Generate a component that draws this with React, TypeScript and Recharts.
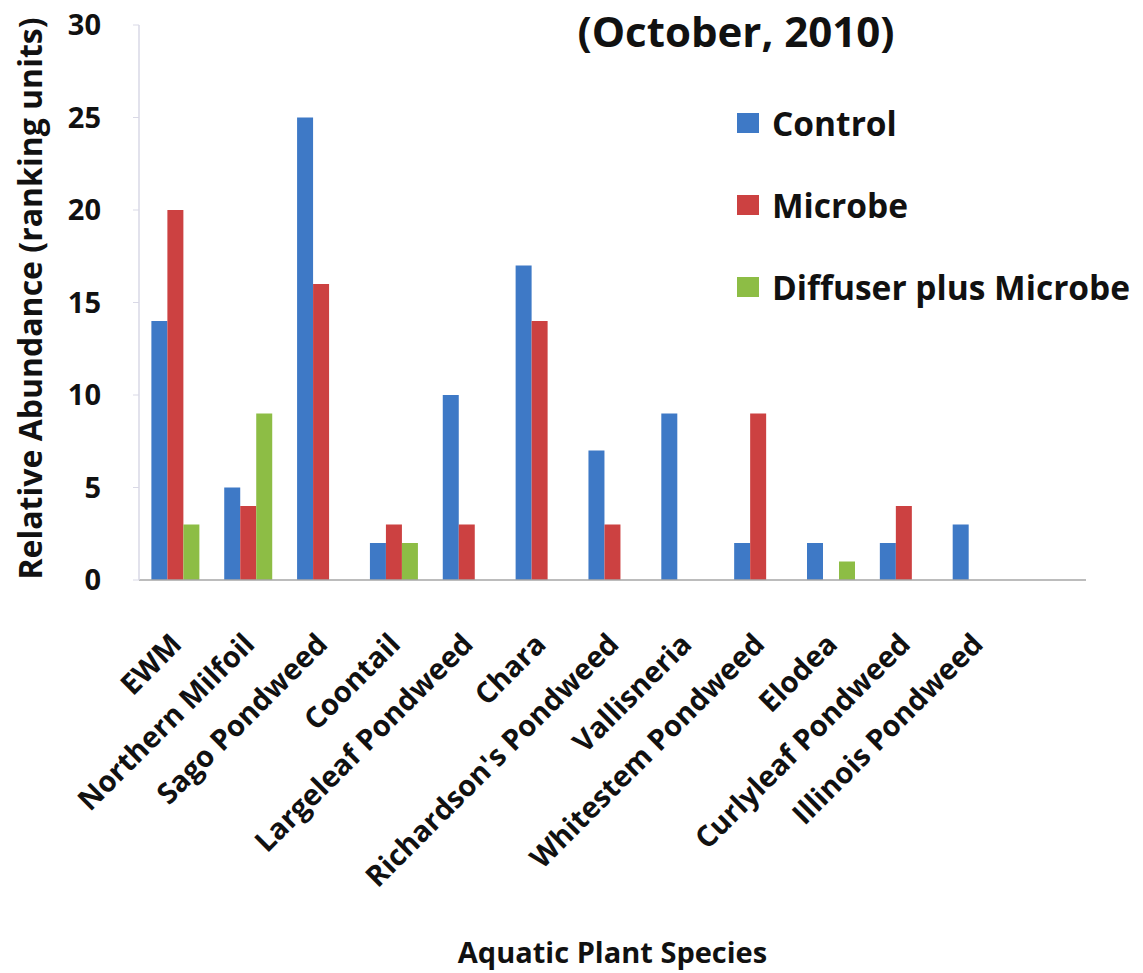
import React from 'react';
import { BarChart, Bar, XAxis, YAxis, Legend, Label } from 'recharts';

const categories = [
  'EWM',
  'Northern Milfoil',
  'Sago Pondweed',
  'Coontail',
  'Largeleaf Pondweed',
  'Chara',
  "Richardson's Pondweed",
  'Vallisneria',
  'Whitestem Pondweed',
  'Elodea',
  'Curlyleaf Pondweed',
  'Illinois Pondweed',
  '',
];

const controlValues = [14, 5, 25, 2, 10, 17, 7, 9, 2, 2, 2, 3, 0];
const microbeValues = [20, 4, 16, 3, 3, 14, 3, 0, 9, 0, 4, 0, 0];
const diffuserValues = [3, 9, 0, 2, 0, 0, 0, 0, 0, 1, 0, 0, 0];

const yTicks = [0, 5, 10, 15, 20, 25, 30];

const seriesNames = ['Control', 'Microbe', 'Diffuser plus Microbe'];
const seriesColors = ['#3E79C6', '#CC4141', '#8DBD45'];

const data = categories.map((name, i) => ({
  name,
  control: controlValues[i],
  microbe: microbeValues[i],
  diffuser: diffuserValues[i],
}));

const FONT = '"Open Sans", Lato, sans-serif';

const XTick = (props: any) => {
  const { x, y, payload } = props;
  const ax = x + 8;
  const ay = y + 58;
  return (
    <text
      x={ax}
      y={ay}
      textAnchor="end"
      transform={`rotate(-45, ${ax}, ${ay})`}
      fontFamily={FONT}
      fontWeight={700}
      fontSize={29}
      fill="#111"
    >
      {payload.value}
    </text>
  );
};

const LegendContent = (props: any) => {
  const items = [...(props.payload || [])].sort(
    (a: any, b: any) => seriesNames.indexOf(a.value) - seriesNames.indexOf(b.value)
  );
  return (
    <div style={{ fontFamily: FONT, fontWeight: 700, fontSize: 33.5, color: '#111' }}>
      {items.map((p: any, i: number) => (
        <div key={i} style={{ display: 'flex', alignItems: 'center', height: 82 }}>
          <span
            style={{
              display: 'inline-block',
              width: 22,
              height: 20,
              background: p.color,
              marginRight: 13,
            }}
          />
          <span style={{ whiteSpace: 'nowrap' }}>{p.value}</span>
        </div>
      ))}
    </div>
  );
};

const YLabel = (props: any) => {
  const vb = props.viewBox || {};
  const cx = 29;
  const cy = vb.y + vb.height / 2 - 4;
  return (
    <text
      x={cx}
      y={cy}
      textAnchor="middle"
      dominantBaseline="central"
      transform={`rotate(-90, ${cx}, ${cy})`}
      fontFamily={FONT}
      fontWeight={700}
      fontSize={32}
      fill="#111"
    >
      Relative Abundance (ranking units)
    </text>
  );
};

export default function App() {
  return (
    <div style={{ position: 'absolute', left: 0, top: 0, width: 1143, height: 973, background: '#fff' }}>
      <BarChart
        width={1143}
        height={973}
        data={data}
        margin={{ top: 25, right: 57, bottom: 0, left: 0 }}
        barCategoryGap="17%"
        barGap={0}
      >
        <text
          x={736}
          y={47}
          textAnchor="middle"
          fontFamily={FONT}
          fontWeight={700}
          fontSize={42}
          fill="#111"
        >
          (October, 2010)
        </text>
        <XAxis
          dataKey="name"
          interval={0}
          tickLine={false}
          axisLine={{ stroke: '#a6a6a6', strokeWidth: 1.5 }}
          tick={<XTick />}
          height={393}
        >
          <Label
            value="Aquatic Plant Species"
            position="insideBottom"
            offset={10}
            style={{ fontFamily: FONT, fontWeight: 700, fontSize: 29, fill: '#111' }}
          />
        </XAxis>
        <YAxis
          width={139}
          domain={[0, 30]}
          ticks={yTicks}
          interval={0}
          axisLine={{ stroke: '#d9d9e6', strokeWidth: 1.5 }}
          tickLine={{ stroke: '#d9d9e6' }}
          tickSize={6}
          tickMargin={32}
          tick={{ fontFamily: FONT, fontWeight: 700, fontSize: 29, fill: '#111' }}
        >
          <Label content={<YLabel />} />
        </YAxis>
        <Legend
          layout="vertical"
          verticalAlign="middle"
          align="center"
          content={<LegendContent />}
          wrapperStyle={{ left: 737, top: 82, width: 406 }}
        />
        <Bar dataKey="control" name={seriesNames[0]} fill={seriesColors[0]} isAnimationActive={false} />
        <Bar dataKey="microbe" name={seriesNames[1]} fill={seriesColors[1]} isAnimationActive={false} />
        <Bar dataKey="diffuser" name={seriesNames[2]} fill={seriesColors[2]} isAnimationActive={false} />
      </BarChart>
    </div>
  );
}
